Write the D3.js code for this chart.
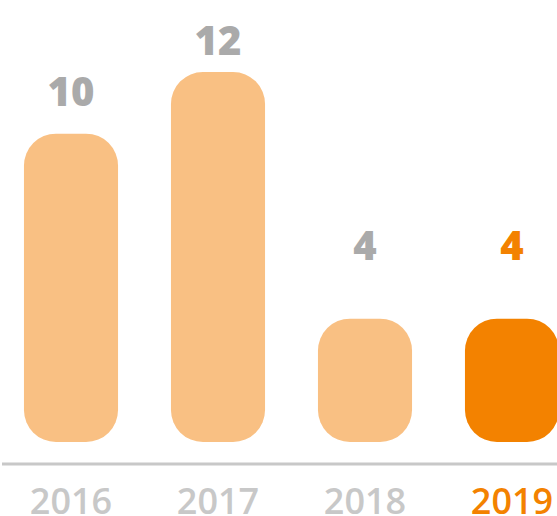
<!DOCTYPE html>
<html>

<head>
    <script src="https://d3js.org/d3.v7.min.js"></script>
    <style>
        body {
            margin: 0;
            background: #fff;
        }

        svg text {
            font-family: "Open Sans", Arial, sans-serif;
        }
    </style>
</head>

<body>
    <svg id="chart" width="557" height="516"></svg>

    <script>
        const years = ["2016", "2017", "2018", "2019"];
        const values = [10, 12, 4, 4];
        const highlightYear = "2019";

        const svg = d3.select("#chart");
        const width = +svg.attr("width");

        const lightColor = "#f9c083";
        const darkColor = "#f38200";

        const xScale = d3.scaleBand()
            .domain(years)
            .range([-2.5, 585.5])
            .paddingInner(0.36)
            .paddingOuter(0.18);

        const yScale = d3.scaleLinear()
            .domain([0, 12])
            .range([442, 72]);

        // labels sit further above the short bars
        const labelScale = d3.scaleLinear()
            .domain([0, 12])
            .range([363, 55]);

        const data = years.map((y, i) => ({ year: y, value: values[i] }));

        svg.selectAll("rect.bar")
            .data(data)
            .enter()
            .append("rect")
            .attr("class", "bar")
            .attr("x", d => xScale(d.year))
            .attr("y", d => yScale(d.value))
            .attr("width", xScale.bandwidth())
            .attr("height", d => yScale(0) - yScale(d.value))
            .attr("rx", 32)
            .attr("ry", 32)
            .attr("fill", d => d.year === highlightYear ? darkColor : lightColor);

        svg.selectAll("text.value")
            .data(data)
            .enter()
            .append("text")
            .attr("class", "value")
            .attr("x", d => xScale(d.year) + xScale.bandwidth() / 2)
            .attr("y", d => labelScale(d.value))
            .attr("text-anchor", "middle")
            .attr("font-size", 40)
            .attr("font-weight", 800)
            .attr("fill", d => d.year === highlightYear ? darkColor : "#aaaaaa")
            .text(d => d.value);

        // baseline
        svg.append("line")
            .attr("x1", 2)
            .attr("x2", width)
            .attr("y1", 464)
            .attr("y2", 464)
            .attr("stroke", "#c8c8c8")
            .attr("stroke-width", 3);

        const xAxis = d3.axisBottom(xScale).tickSize(0).tickPadding(0);
        const axisG = svg.append("g")
            .attr("transform", "translate(0,488)")
            .call(xAxis);
        axisG.select(".domain").remove();
        axisG.selectAll("text")
            .attr("dy", null)
            .attr("y", 26)
            .attr("font-size", 36)
            .attr("font-weight", 600)
            .style("font-family", "'Open Sans', Arial, sans-serif")
            .attr("fill", d => d === highlightYear ? darkColor : "#c8c8c8");
    </script>
</body>

</html>
